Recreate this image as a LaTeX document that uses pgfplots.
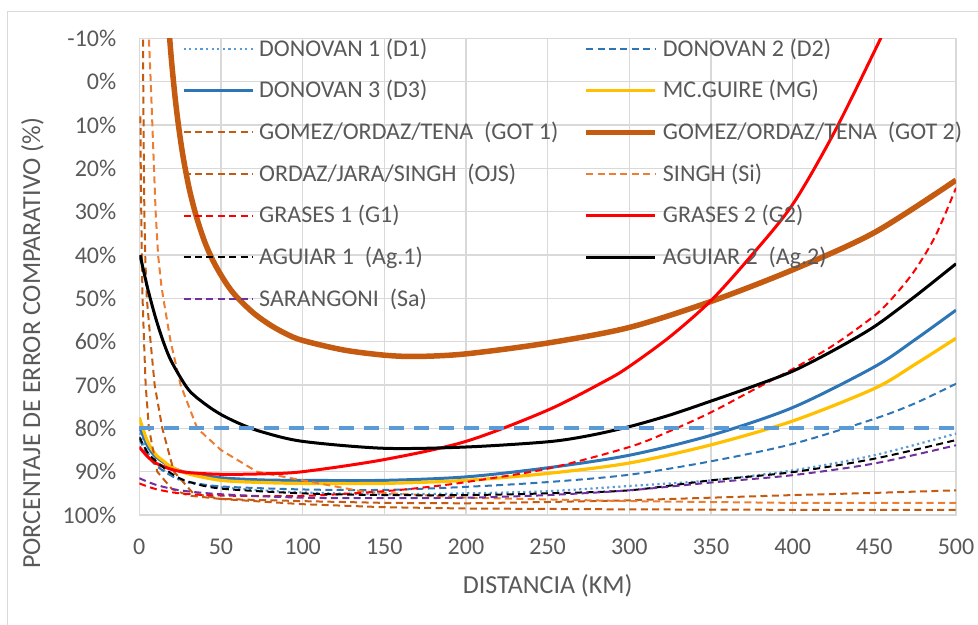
\documentclass[border=0pt]{standalone}
\usepackage{fontspec}
\setmainfont{Carlito}
\usepackage{pgfplots}
\pgfplotsset{compat=1.18}
\definecolor{txt}{HTML}{595959}
\definecolor{gridc}{HTML}{D9D9D9}
\definecolor{lblue}{HTML}{5B9BD5}
\definecolor{dblue}{HTML}{2E75B6}
\definecolor{gold}{HTML}{FFC000}
\definecolor{rust}{HTML}{C55A11}
\definecolor{orng}{HTML}{ED7D31}
\definecolor{purp}{HTML}{7030A0}

\begin{document}
\begin{tikzpicture}
\begin{axis}[
  at={(69.65pt,-19.25pt)}, anchor=north west,
  width=408.35pt, height=238.25pt, scale only axis,
  xmin=0, xmax=500, ymin=-10, ymax=100, y dir=reverse,
  xtick={0,50,...,500}, ytick={-10,0,...,100},
  yticklabel={\pgfmathprintnumber{\tick}\%},
  /pgf/number format/assume math mode=true,
  major tick length=0pt,
  grid=major, major grid style={draw=gridc, line width=0.65pt},
  axis line style={draw=gridc, line width=0.65pt},
  tick label style={font=\fontsize{12}{14}\selectfont, text=txt, inner sep=0pt},
  xticklabel style={yshift=-12pt},
  yticklabel style={xshift=-11.3pt},
  xlabel={DISTANCIA (KM)},
  ylabel={PORCENTAJE DE ERROR COMPARATIVO (\%)},
  label style={font=\fontsize{13}{15}\selectfont, text=txt},
  xlabel style={at={(axis description cs:0.5,-0.149)}, anchor=center},
  ylabel style={at={(axis description cs:-0.131,0.36)}, anchor=center},
  legend columns=2,
  legend cell align=left,
  legend style={at={(axis description cs:0.0525,1.008)}, anchor=north west,
    draw=none, fill=none, inner sep=0pt, outer sep=0pt,
    font=\fontsize{12}{14}\selectfont, text=txt, row sep=6.55pt,
    /tikz/every odd column/.append style={column sep=0.5pt},
    /tikz/every even column/.append style={column sep=10.5pt}},
  legend image code/.code={\draw[#1] (0pt,0pt) -- (34.5pt,0pt);},
  every axis plot/.append style={line join=round},
  dsh/.style={line width=1pt, dash pattern=on 3.5pt off 2.2pt},
]
% D1
\addplot[lblue, line width=1.1pt, dash pattern=on 1.1pt off 1.7pt, smooth] coordinates {
 (0,81)(5,85.5)(10,88)(20,91)(30,92.5)(50,93.6)(75,94.3)(100,94.8)(150,95.2)(200,95)
 (250,94.5)(300,93.3)(350,92)(400,89.7)(450,86.2)(500,81.2)};
\addlegendentry{DONOVAN 1 (D1)}
% D2
\addplot[dblue, dsh, smooth] coordinates {
 (0,82.5)(5,86)(10,88.5)(20,91)(30,92.3)(50,93.4)(100,94.1)(150,94.2)(200,93.5)
 (250,92.4)(300,90.7)(350,87.6)(400,83.6)(450,77.8)(475,74.2)(500,69.7)};
\addlegendentry{DONOVAN 2 (D2)}
% D3
\addplot[dblue, line width=1.5pt, smooth] coordinates {
 (0,79.5)(5,84)(10,86.5)(20,89)(30,90.3)(50,91.4)(75,91.9)(100,92)(150,92)(200,91.2)
 (250,89.1)(300,86.2)(350,81.6)(400,75.2)(450,65.8)(475,59.5)(500,52.7)};
\addlegendentry{DONOVAN 3 (D3)}
% MG
\addplot[gold, line width=1.6pt, smooth] coordinates {
 (0,77.5)(5,83)(10,86)(15,87.6)(20,89)(30,90.5)(50,92)(75,92.5)(100,92.7)(150,92.7)
 (200,92)(250,90.4)(300,88)(350,83.8)(400,78.3)(450,70.8)(475,65.2)(500,59.2)};
\addlegendentry{MC.GUIRE (MG)}
% GOT 1
\addplot[rust, dsh] coordinates {
 (2.2,-15)(2.4,0)(2.6,10)(2.8,20)(3.1,30)(3.6,40)(4.6,50)(6.9,60)(9.4,70)(14.1,80)
 (21.2,90)(33,95)(50,96.3)(100,97.5)(150,98.2)(200,98.5)(300,98.7)(400,98.8)(500,98.8)};
\addlegendentry{GOMEZ/ORDAZ/TENA\ \ (GOT 1)}
% GOT 2
\addplot[rust, line width=2.75pt, smooth] coordinates {
 (17,-18.6)(18.6,-10)(20,-3.7)(22,3.9)(24,10.1)(26,15.4)(28,19.8)(31,25.4)(35,31.2)
 (40,36.9)(45,41.2)(50,44.6)(55,47.5)(60,49.8)(70,53.4)(80,56.1)(90,58.2)(100,59.7)
 (125,61.9)(150,63.1)(170,63.4)(200,62.8)(250,60.3)(300,56.7)(350,50.7)(400,43.4)
 (450,34.8)(500,22.7)};
\addlegendentry{GOMEZ/ORDAZ/TENA\ \ (GOT 2)}
% OJS
\addplot[rust, dsh] coordinates {
 (0.7,8)(0.9,20)(1.2,30)(1.6,42)(2,50)(2.9,60)(3.9,70)(5.9,80)(11,90)(20,94)
 (30,95.5)(50,96.3)(100,96.8)(150,97.2)(200,97.3)(250,97)(300,96.6)(350,96)
 (400,95.4)(450,94.9)(500,94.3)};
\addlegendentry{ORDAZ/JARA/SINGH\ \ (OJS)}
% Si
\addplot[orng, dsh] coordinates {
 (5.5,-15)(5.9,-10)(7,0)(8,10)(9,20)(10,30)(11.5,40)(13.5,47)(14.7,50)(19.2,60)
 (25.3,70)(35.5,80)(50,85)(72,90)(100,92)(137,94.6)(200,96)(300,96.8)(400,97.2)(500,97.2)};
\addlegendentry{SINGH (Si)}
% G1
\addplot[red, dsh, smooth] coordinates {
 (0,92.7)(10,94)(25,95)(50,95.5)(100,95.6)(150,94.5)(175,93.6)(200,92.4)(250,89.3)
 (300,84.3)(325,80.6)(350,76.3)(375,71.3)(400,66.3)(425,60.8)(450,54)(462.5,49.3)
 (475,43.4)(487.5,35.5)(500,24.5)};
\addlegendentry{GRASES 1 (G1)}
% G2
\addplot[red, line width=1.5pt, smooth] coordinates {
 (0,84.3)(5,86.5)(10,88)(20,89.5)(30,90.2)(50,90.6)(75,90.5)(100,90)(150,87.2)
 (200,83)(250,75.8)(286,68.9)(300,65.7)(325,58.8)(350,50.5)(375,40)(400,28.3)
 (425,12)(450,-7)(460,-15)};
\addlegendentry{GRASES 2 (G2)}
% Ag.1
\addplot[black, dsh, smooth] coordinates {
 (0,82)(5,85.5)(10,87.5)(20,90.5)(30,92.3)(50,93.9)(100,95)(150,95.4)(200,95.4)
 (250,95)(300,94.3)(350,92)(400,90.1)(450,87)(500,82.7)};
\addlegendentry{AGUIAR 1\ \ (Ag.1)}
% Ag.2
\addplot[black, line width=1.5pt, smooth] coordinates {
 (0.5,40)(5,47.5)(10,54.5)(15,60.3)(20,64.8)(30,71)(40,74.3)(50,76.8)(62,79)(75,80.8)
 (100,83)(150,84.6)(200,84.3)(250,83.1)(275,81.7)(300,79.6)(325,76.9)(350,73.7)
 (375,70.4)(400,66.8)(425,62)(450,56.5)(475,49.5)(500,42)};
\addlegendentry{AGUIAR 2\ \ (Ag.2)}
% Sa
\addplot[purp, dsh, smooth] coordinates {
 (0,91.5)(10,93)(25,94.3)(50,95.2)(100,96)(150,96.1)(200,96)(250,95.4)(300,94.3)
 (350,92.5)(400,90.8)(450,88.1)(500,83.9)};
\addlegendentry{SARANGONI\ \ (Sa)}
% 80 % reference line
\addplot[lblue, line width=2pt, dash pattern=on 7.5pt off 5pt, forget plot] coordinates {
 (0,80)(500,80)};
\end{axis}
\pgfresetboundingbox
\useasboundingbox (0,0) rectangle (489pt,-312.5pt);
\draw[gridc, line width=0.75pt] (3.75pt,-312.5pt) -- (3.75pt,-5.85pt) -- (489pt,-5.85pt);
\end{tikzpicture}
\end{document}
